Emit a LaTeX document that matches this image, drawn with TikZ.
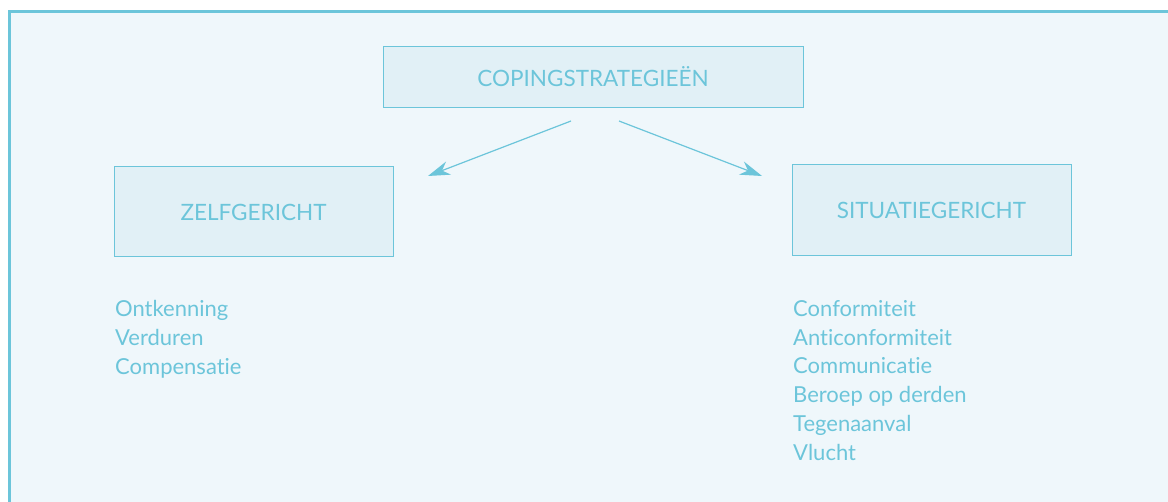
\documentclass[tikz,border=0pt]{standalone}
\usepackage{fontspec}
\setmainfont{Lato}[Ligatures={NoCommon}]
\usetikzlibrary{arrows.meta}
\definecolor{cyanline}{HTML}{6CC5DA}
\definecolor{boxfill}{HTML}{E1F0F6}
\definecolor{bgfill}{HTML}{EFF7FB}
\tikzset{
  catbox/.style={draw=cyanline, fill=boxfill, line width=1pt, inner sep=0pt, text=cyanline,
    font=\fontsize{22.5}{26}\selectfont},
  listtext/.style={text=cyanline, anchor=north west, inner sep=0pt, align=left,
    font=\fontsize{22}{28.8}\selectfont},
  conn/.style={draw=cyanline, line width=1.2pt, -{Stealth[length=22pt,width=14pt,inset=7pt]}}
}
\begin{document}
\begin{tikzpicture}[x=1pt,y=-1pt]
\useasboundingbox (0,0) rectangle (1168,502);
\fill[white] (0,0) rectangle (1168,502);
\fill[bgfill] (8,10) rectangle (1168,502);
\draw[cyanline, line width=3pt] (9.5,502) -- (9.5,11.5) -- (1168,11.5);

\node[catbox, minimum width=420pt, minimum height=61pt] (top) at (593,77) {COPINGSTRATEGIEËN};
\node[catbox, minimum width=279pt, minimum height=90pt] (zelf) at (253.5,212) {ZELFGERICHT};
\node[catbox, minimum width=279pt, minimum height=91pt] (sit) at (931.5,210.5) {SITUATIEGERICHT};

\coordinate (ls) at (571,121);
\coordinate (le) at (428,176);
\coordinate (rs) at (619,121);
\coordinate (re) at (762,176);
\draw[conn] (ls) -- (le);
\draw[conn] (rs) -- (re);

\node[listtext] (zlist) at (115,300) {Ontkenning\\Verduren\\Compensatie};
\node[listtext] (slist) at (793,300) {Conformiteit\\Anticonformiteit\\Communicatie\\Beroep op derden\\Tegenaanval\\Vlucht};
\end{tikzpicture}
\end{document}
